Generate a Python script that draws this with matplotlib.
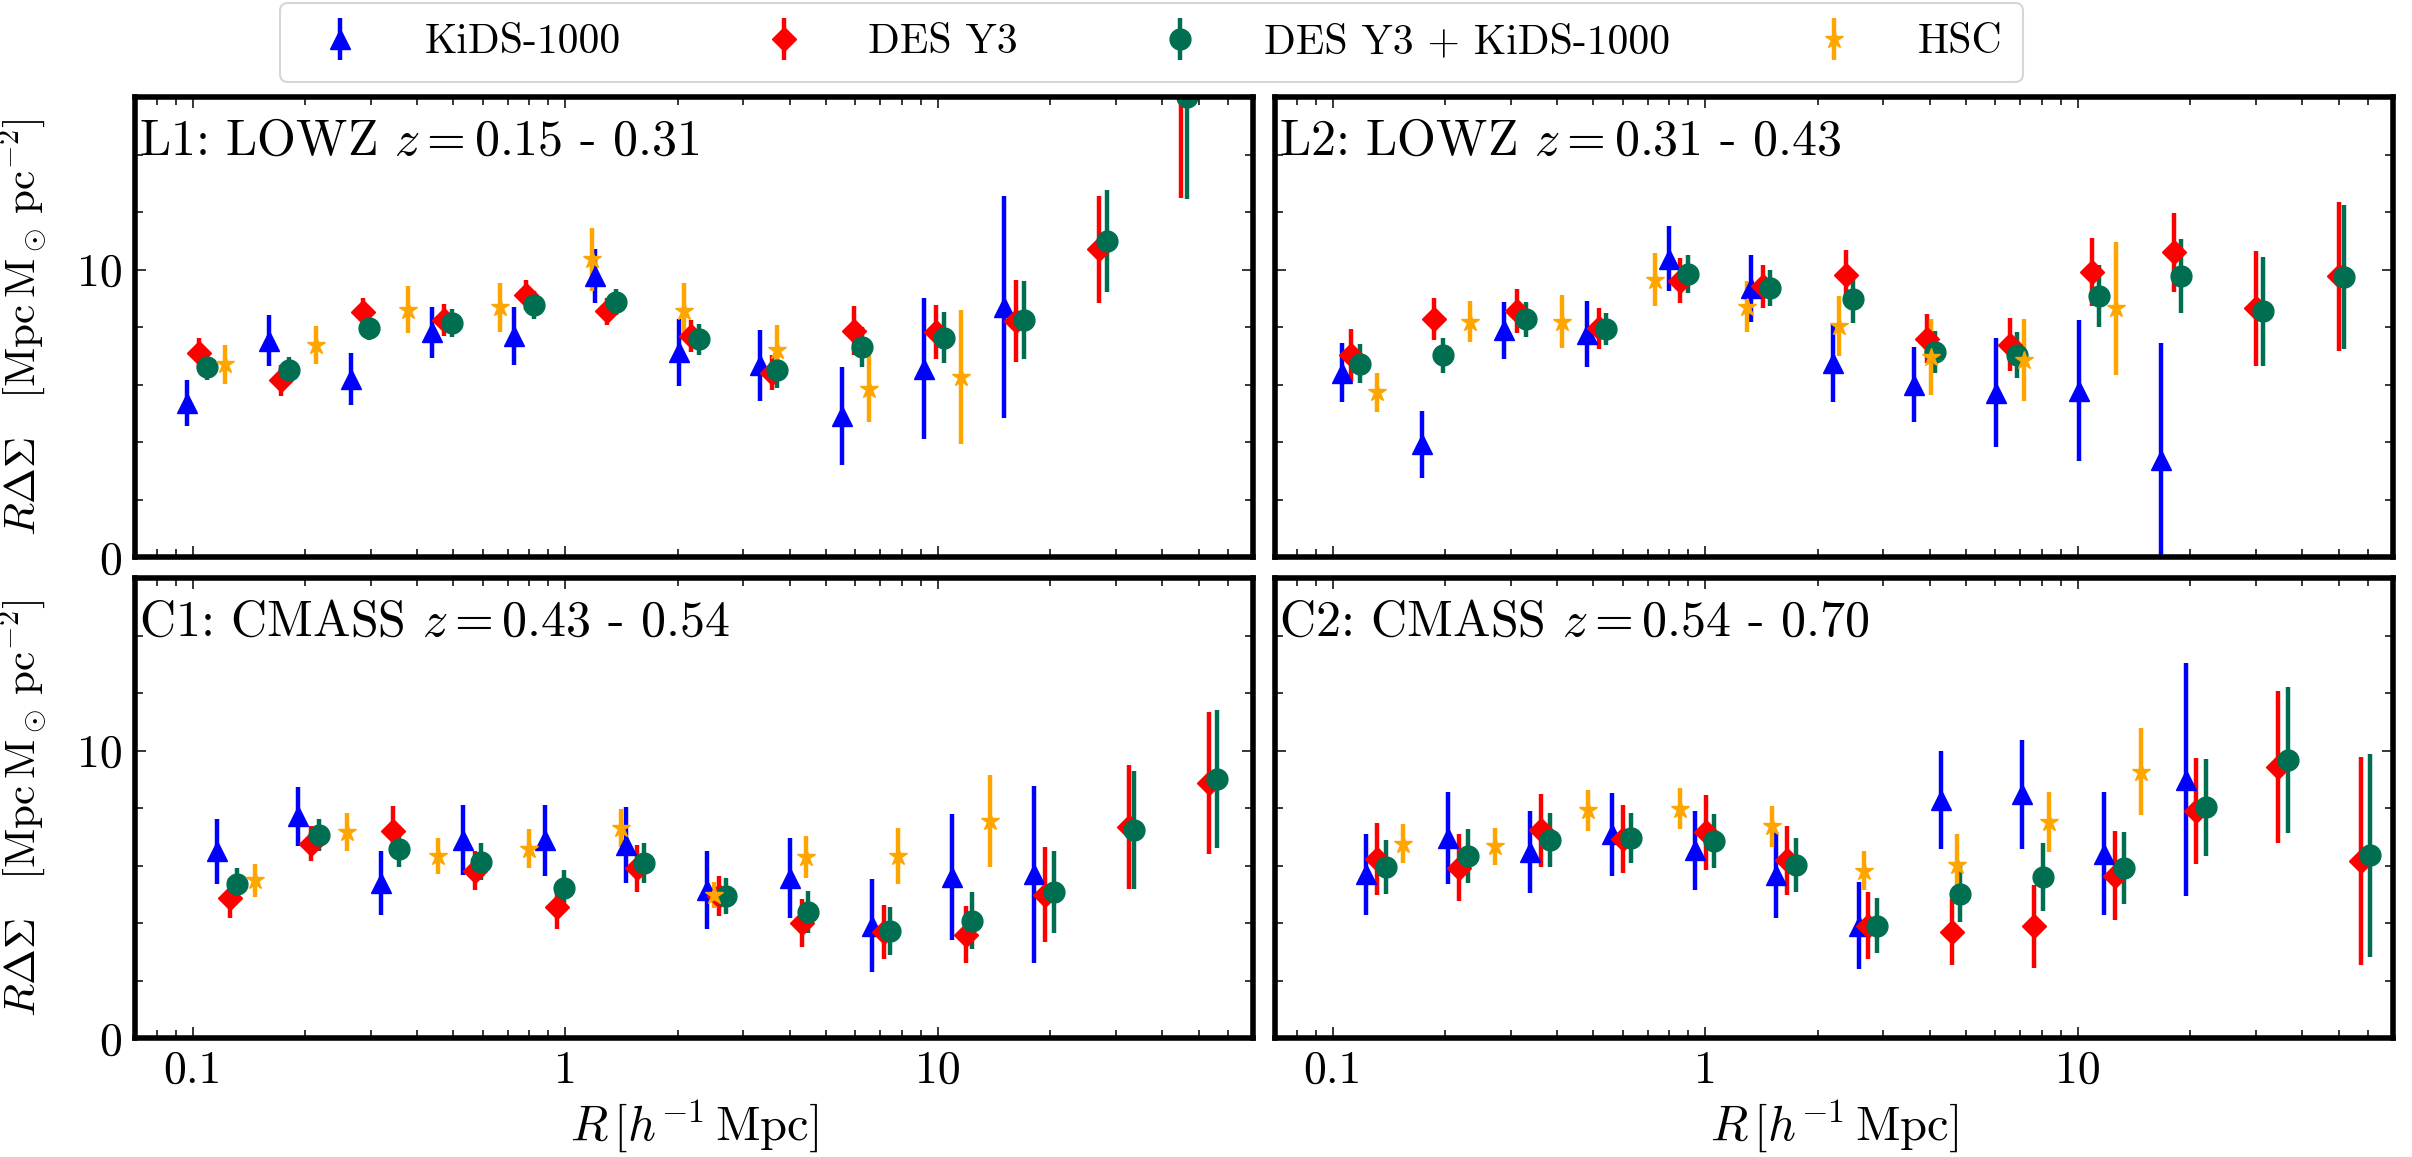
import matplotlib
matplotlib.use("Agg")
import matplotlib.pyplot as plt
from matplotlib.ticker import MultipleLocator, NullFormatter, LogLocator

plt.rcParams['font.family'] = 'serif'
plt.rcParams['font.serif'] = ['cmr10']
plt.rcParams['mathtext.fontset'] = 'cm'
plt.rcParams['axes.formatter.use_mathtext'] = True
plt.rcParams['axes.unicode_minus'] = False

# ---------------- data ----------------
survey_labels = ['KiDS-1000', 'DES Y3', 'DES Y3 + KiDS-1000', 'HSC']
panel_titles = [r'L1: LOWZ $z = 0.15$ - $0.31$', r'L2: LOWZ $z = 0.31$ - $0.43$',
                r'C1: CMASS $z = 0.43$ - $0.54$', r'C2: CMASS $z = 0.54$ - $0.70$']
xtick_vals = [0.1, 1, 10]
xtick_labels = ['0.1', '1', '10']
ytick_vals = [0, 10]
ytick_labels = ['0', '10']

# L1
L1_kids_R = [0.0966, 0.1602, 0.2658, 0.4387, 0.7279, 1.2014, 2.013, 3.324, 5.512, 9.146, 15.02]
L1_kids_v = [5.36, 7.53, 6.20, 7.82, 7.70, 9.77, 7.12, 6.67, 4.91, 6.55, 8.71]
L1_kids_e = [0.79, 0.89, 0.90, 0.89, 1.01, 0.94, 1.16, 1.23, 1.70, 2.46, 3.86]
L1_des_R = [0.1040, 0.1726, 0.2863, 0.4727, 0.7843, 1.2944, 2.169, 3.580, 5.939, 9.85, 16.18, 26.98, 44.8]
L1_des_v = [7.08, 6.14, 8.51, 8.25, 9.12, 8.54, 7.70, 6.41, 7.87, 7.82, 8.22, 10.70, 16.30]
L1_des_e = [0.53, 0.53, 0.50, 0.56, 0.53, 0.47, 0.56, 0.61, 0.85, 0.95, 1.43, 1.87, 3.80]
L1_comb_R = [0.1093, 0.1814, 0.2978, 0.4967, 0.8237, 1.367, 2.279, 3.707, 6.242, 10.35, 17.0, 28.36, 46.56]
L1_comb_v = [6.61, 6.49, 7.95, 8.13, 8.77, 8.87, 7.57, 6.49, 7.31, 7.63, 8.25, 11.00, 16.00]
L1_comb_e = [0.44, 0.47, 0.40, 0.49, 0.49, 0.44, 0.53, 0.60, 0.69, 0.88, 1.36, 1.78, 3.55]
L1_hsc_R = [0.1220, 0.2137, 0.3780, 0.6687, 1.178, 2.084, 3.688, 6.527, 11.55]
L1_hsc_v = [6.70, 7.38, 8.60, 8.69, 10.35, 8.54, 7.19, 5.85, 6.26]
L1_hsc_e = [0.67, 0.65, 0.82, 0.85, 1.11, 0.99, 0.88, 1.17, 2.34]

# L2
L2_kids_R = [0.1056, 0.1741, 0.2884, 0.4799, 0.7986, 1.3226, 2.200, 3.628, 6.038, 10.05, 16.72]
L2_kids_v = [6.41, 3.92, 7.89, 7.77, 10.38, 9.34, 6.76, 6.00, 5.71, 5.79, 3.39]
L2_kids_e = [1.02, 1.17, 0.99, 1.15, 1.14, 1.18, 1.37, 1.32, 1.90, 2.46, 4.04]
L2_des_R = [0.1120, 0.1873, 0.3115, 0.5185, 0.8548, 1.429, 2.377, 3.939, 6.552, 10.90, 18.06, 30.05, 50.0]
L2_des_v = [7.02, 8.28, 8.56, 7.95, 9.61, 9.42, 9.80, 7.60, 7.39, 9.92, 10.60, 8.65, 9.77]
L2_des_e = [0.92, 0.73, 0.76, 0.70, 0.79, 0.75, 0.88, 0.85, 0.91, 1.19, 1.37, 2.00, 2.59]
L2_comb_R = [0.1183, 0.1977, 0.3292, 0.5426, 0.8987, 1.495, 2.488, 4.121, 6.858, 11.36, 18.90, 31.30, 51.85]
L2_comb_v = [6.73, 7.02, 8.27, 7.93, 9.85, 9.36, 8.97, 7.13, 7.02, 9.09, 9.77, 8.54, 9.73]
L2_comb_e = [0.67, 0.61, 0.61, 0.56, 0.65, 0.63, 0.82, 0.73, 0.79, 1.08, 1.29, 1.88, 2.51]
L2_hsc_R = [0.1314, 0.2339, 0.4130, 0.7323, 1.2927, 2.282, 4.029, 7.176, 12.66]
L2_hsc_v = [5.73, 8.19, 8.19, 9.65, 8.71, 8.04, 6.96, 6.84, 8.65]
L2_hsc_e = [0.67, 0.70, 0.92, 0.92, 0.88, 1.04, 1.32, 1.43, 2.32]

# C1
C1_kids_R = [0.1160, 0.1922, 0.3201, 0.5304, 0.8835, 1.4498, 2.402, 4.001, 6.630, 10.93, 18.12]
C1_kids_v = [6.49, 7.71, 5.39, 6.88, 6.87, 6.71, 5.14, 5.57, 3.90, 5.60, 5.69]
C1_kids_e = [1.14, 1.02, 1.10, 1.22, 1.24, 1.33, 1.36, 1.39, 1.62, 2.18, 3.08]
C1_des_R = [0.1262, 0.2071, 0.3449, 0.5715, 0.9517, 1.5613, 2.588, 4.310, 7.141, 11.90, 19.32, 32.50, 53.33]
C1_des_v = [4.86, 6.76, 7.21, 5.82, 4.54, 5.90, 4.93, 3.99, 3.68, 3.60, 4.99, 7.34, 8.87]
C1_des_e = [0.70, 0.60, 0.85, 0.67, 0.75, 0.82, 0.70, 0.84, 0.94, 0.98, 1.64, 2.14, 2.47]
C1_comb_R = [0.1313, 0.2176, 0.3587, 0.5943, 0.9901, 1.624, 2.692, 4.483, 7.430, 12.37, 20.50, 33.64, 56.03]
C1_comb_v = [5.35, 7.07, 6.56, 6.13, 5.22, 6.09, 4.95, 4.39, 3.72, 4.08, 5.09, 7.23, 9.00]
C1_comb_e = [0.57, 0.55, 0.62, 0.65, 0.62, 0.71, 0.62, 0.74, 0.82, 1.00, 1.43, 2.05, 2.40]
C1_hsc_R = [0.1472, 0.2588, 0.4550, 0.8002, 1.414, 2.499, 4.417, 7.806, 13.80]
C1_hsc_v = [5.49, 7.16, 6.32, 6.59, 7.30, 4.98, 6.29, 6.32, 7.56]
C1_hsc_e = [0.57, 0.67, 0.63, 0.68, 0.65, 0.45, 0.72, 0.97, 1.60]

# C2
C2_kids_R = [0.1227, 0.2042, 0.3381, 0.5626, 0.9363, 1.5506, 2.581, 4.294, 7.080, 11.73, 19.51]
C2_kids_v = [5.69, 6.95, 6.48, 7.08, 6.53, 5.68, 3.91, 8.27, 8.47, 6.41, 8.99]
C2_kids_e = [1.40, 1.59, 1.42, 1.43, 1.37, 1.49, 1.52, 1.71, 1.91, 2.13, 4.06]
C2_des_R = [0.1314, 0.2186, 0.3620, 0.6024, 1.0023, 1.660, 2.737, 4.596, 7.612, 12.55, 20.70, 34.43, 57.56]
C2_des_v = [6.22, 5.92, 7.23, 6.92, 7.16, 6.18, 3.91, 3.68, 3.88, 5.65, 7.90, 9.44, 6.16]
C2_des_e = [1.25, 1.17, 1.27, 1.19, 1.30, 1.19, 1.17, 1.14, 1.44, 1.55, 1.85, 2.64, 3.61]
C2_comb_R = [0.1387, 0.2309, 0.3824, 0.6332, 1.054, 1.753, 2.891, 4.832, 8.04, 13.31, 22.05, 36.53, 60.78]
C2_comb_v = [5.96, 6.32, 6.89, 6.96, 6.85, 6.02, 3.91, 5.02, 5.60, 5.92, 8.03, 9.67, 6.36]
C2_comb_e = [0.94, 0.94, 0.94, 0.88, 0.95, 0.94, 0.95, 0.97, 1.17, 1.25, 1.69, 2.54, 3.53]
C2_hsc_R = [0.1541, 0.2719, 0.4843, 0.8549, 1.509, 2.665, 4.723, 8.337, 14.72]
C2_hsc_v = [6.76, 6.67, 7.92, 7.97, 7.36, 5.82, 6.02, 7.52, 9.26]
C2_hsc_e = [0.67, 0.65, 0.72, 0.71, 0.70, 0.67, 1.08, 1.05, 1.51]

panels = [
    [(L1_kids_R, L1_kids_v, L1_kids_e), (L1_des_R, L1_des_v, L1_des_e),
     (L1_comb_R, L1_comb_v, L1_comb_e), (L1_hsc_R, L1_hsc_v, L1_hsc_e)],
    [(L2_kids_R, L2_kids_v, L2_kids_e), (L2_des_R, L2_des_v, L2_des_e),
     (L2_comb_R, L2_comb_v, L2_comb_e), (L2_hsc_R, L2_hsc_v, L2_hsc_e)],
    [(C1_kids_R, C1_kids_v, C1_kids_e), (C1_des_R, C1_des_v, C1_des_e),
     (C1_comb_R, C1_comb_v, C1_comb_e), (C1_hsc_R, C1_hsc_v, C1_hsc_e)],
    [(C2_kids_R, C2_kids_v, C2_kids_e), (C2_des_R, C2_des_v, C2_des_e),
     (C2_comb_R, C2_comb_v, C2_comb_e), (C2_hsc_R, C2_hsc_v, C2_hsc_e)],
]

# ---------------- style ----------------
colors = ['#0000ff', '#ff0000', '#006f51', '#ffa500']
markers = ['^', 'D', 'o', '*']
msizes = [14.5, 12.5, 15, 13.5]

W, H = 2412, 1157
fig = plt.figure(figsize=(W / 100, H / 100), dpi=100)

def frac(x0, y0, x1, y1):
    return [x0 / W, 1 - y1 / H, (x1 - x0) / W, (y1 - y0) / H]

rects = [frac(135, 97, 1253, 557), frac(1275, 97, 2393, 557),
         frac(135, 578, 1253, 1038), frac(1275, 578, 2393, 1038)]

handles = None
for i, (rect, series) in enumerate(zip(rects, panels)):
    ax = fig.add_axes(rect)
    hs = []
    for j, (R, v, e) in enumerate(series):
        h = ax.errorbar(R, v, yerr=e, fmt=markers[j], color=colors[j], ms=msizes[j],
                        mec=colors[j], elinewidth=3.2, capsize=0, label=survey_labels[j])
        hs.append(h)
    if handles is None:
        handles = hs
    ax.set_xscale('log')
    ax.set_xlim(0.07, 70)
    ax.set_ylim(0, 16)
    ax.xaxis.set_minor_locator(LogLocator(base=10, subs=range(2, 10), numticks=20))
    ax.xaxis.set_minor_formatter(NullFormatter())
    ax.yaxis.set_minor_locator(MultipleLocator(2))
    ax.set_xticks(xtick_vals)
    ax.set_yticks(ytick_vals)
    ax.tick_params(which='both', direction='in', top=True, right=True)
    ax.tick_params(which='major', length=8, width=1.1, labelsize=33, pad=9)
    ax.tick_params(which='minor', length=5.5, width=1.1)
    for sp in ax.spines.values():
        sp.set_linewidth(4)
    if i in (0, 2):
        ax.set_yticklabels(ytick_labels)
        ax.set_ylabel(r'$R\Delta\Sigma\ \ \ [{\rm Mpc\,M_\odot\,pc^{-2}}]$', fontsize=31)
        ax.yaxis.set_label_coords(-0.076, 0.5)
    else:
        ax.set_yticklabels([])
    if i in (2, 3):
        ax.set_xticklabels(xtick_labels)
        ax.set_xlabel(r'$R\,[h^{-1}\,{\rm Mpc}]$', fontsize=35, labelpad=4)
    else:
        ax.set_xticklabels([])
    ax.text(0.004, 0.874, panel_titles[i], transform=ax.transAxes, fontsize=36,
            ha='left', va='baseline')

leg = fig.legend(handles, survey_labels, loc='upper center', bbox_to_anchor=(0.4774, 0.9974),
                 ncol=4, fontsize=30, frameon=True, fancybox=True, edgecolor='0.8',
                 handlelength=1.9, handletextpad=1.07, columnspacing=2.96, borderpad=0.5,
                 borderaxespad=0.0)
leg.get_frame().set_linewidth(1.5)

fig.savefig('out.png', dpi=100)
